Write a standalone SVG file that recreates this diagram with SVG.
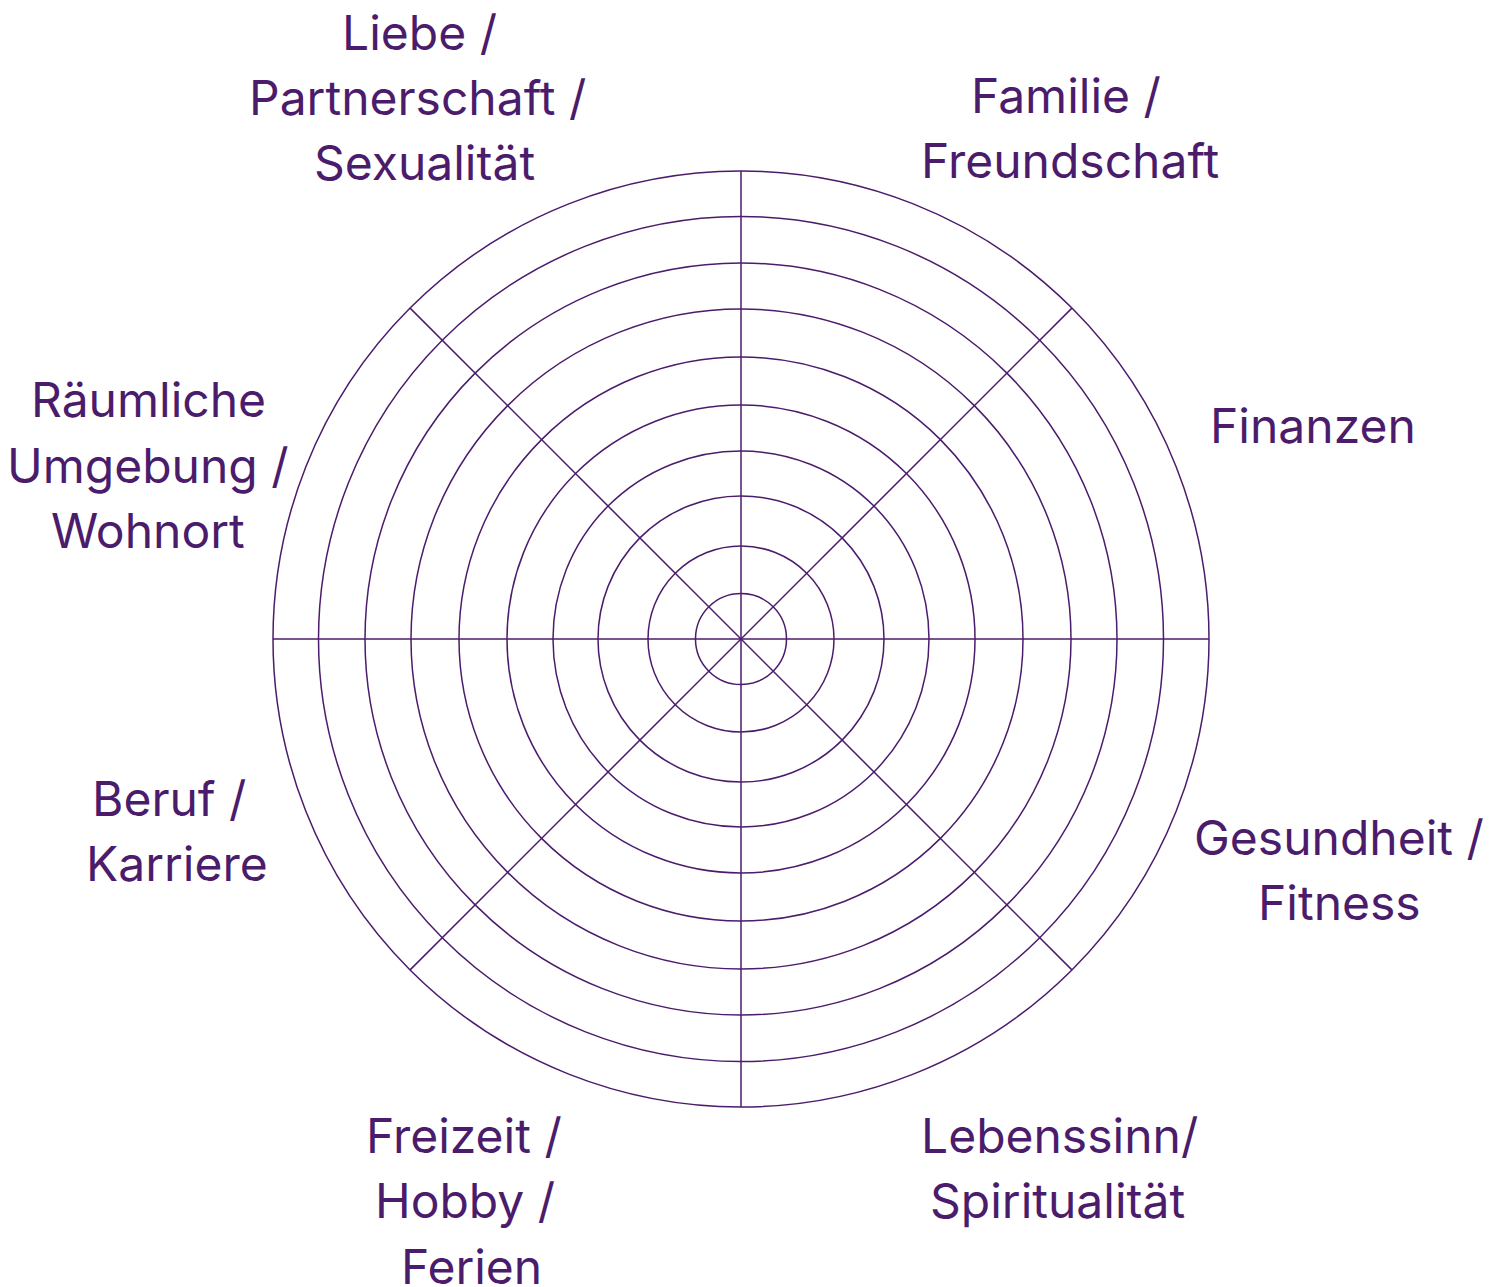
<svg xmlns="http://www.w3.org/2000/svg" width="1497" height="1287" viewBox="0 0 1497 1287">
<style>
.g{fill:none;stroke:#4b1c6b;stroke-width:1.5}
.t{font-family:Inter,"Noto Sans",sans-serif;font-size:48px;fill:#4b1c6b}
</style>
<rect width="1497" height="1287" fill="#fff"/>
<g id="wheel" class="g">
<circle cx="741" cy="639" r="468"/>
<circle cx="741" cy="639" r="422.5"/>
<circle cx="741" cy="639" r="376"/>
<circle cx="741" cy="639" r="330"/>
<circle cx="741" cy="639" r="282"/>
<circle cx="741" cy="639" r="234"/>
<circle cx="741" cy="639" r="188"/>
<circle cx="741" cy="639" r="143"/>
<circle cx="741" cy="639" r="93"/>
<circle cx="741" cy="639" r="45.5"/>
</g>
<g id="connectors" class="g">
<line x1="741" y1="171" x2="741" y2="1107"/>
<line x1="273" y1="639" x2="1209" y2="639"/>
<line x1="410.1" y1="308.1" x2="1071.9" y2="969.9"/>
<line x1="1071.9" y1="308.1" x2="410.1" y2="969.9"/>
</g>
<g id="liebe" class="t"><text x="342" y="50">Liebe /</text><text x="249" y="115">Partnerschaft /</text><text x="314" y="180">Sexualität</text></g>
<g id="familie" class="t"><text x="971" y="113">Familie /</text><text x="921" y="178">Freundschaft</text></g>
<g id="finanzen" class="t"><text x="1210" y="443">Finanzen</text></g>
<g id="raeumlich" class="t"><text x="31" y="417">Räumliche</text><text x="7" y="483">Umgebung /</text><text x="51" y="548">Wohnort</text></g>
<g id="beruf" class="t"><text x="92" y="816">Beruf /</text><text x="86" y="881">Karriere</text></g>
<g id="gesundheit" class="t"><text x="1194" y="855">Gesundheit /</text><text x="1258" y="920">Fitness</text></g>
<g id="freizeit" class="t"><text x="366" y="1153">Freizeit /</text><text x="375" y="1218">Hobby /</text><text x="401" y="1284">Ferien</text></g>
<g id="lebenssinn" class="t"><text x="921" y="1153">Lebenssinn/</text><text x="930" y="1218">Spiritualität</text></g>
</svg>
